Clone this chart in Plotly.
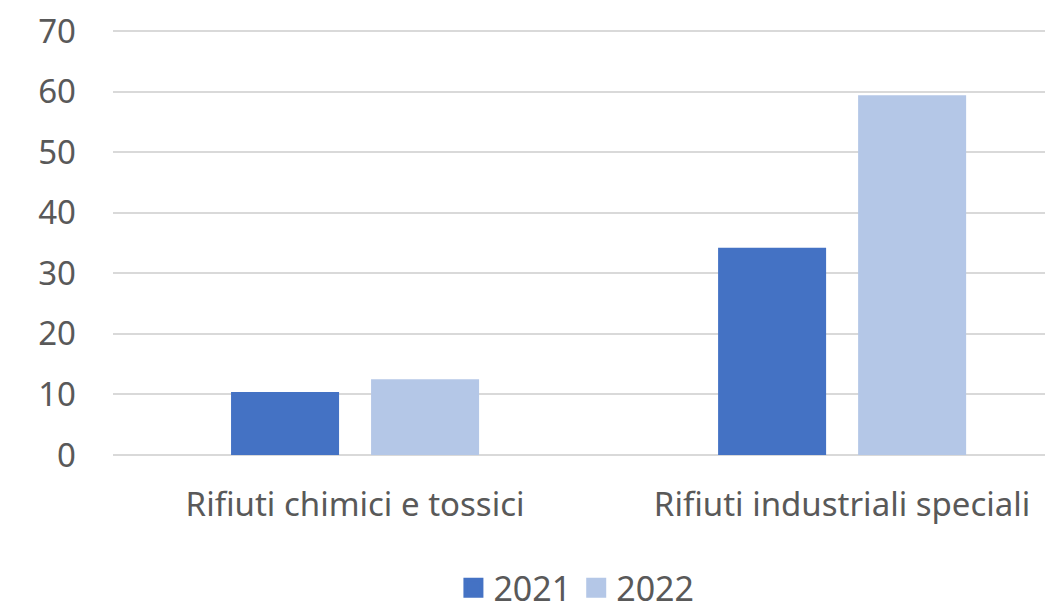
import plotly.graph_objects as go

categories = ["Rifiuti chimici e tossici", "Rifiuti industriali speciali"]
series_names = ["2021", "2022"]
values_2021 = [10.4, 34.2]
values_2022 = [12.5, 59.4]
y_ticks = [0, 10, 20, 30, 40, 50, 60, 70]

colors = ["#4472C4", "#B4C7E7"]
font_family = "Noto Sans, Open Sans, sans-serif"
text_color = "#595959"

fig = go.Figure()
for name, vals, col in zip(series_names, [values_2021, values_2022], colors):
    fig.add_trace(go.Bar(
        x=categories, y=vals, name=name, showlegend=False,
        marker=dict(color=col, line=dict(width=0)),
    ))
# legend entries (bigger square swatches)
for name, col in zip(series_names, colors):
    fig.add_trace(go.Scatter(
        x=[None], y=[None], mode="markers", name=name,
        marker=dict(symbol="square", size=16, color=col, line=dict(color=col, width=4)),
    ))

fig.update_layout(
    width=1045, height=599,
    margin=dict(l=105, r=0, t=20, b=152, autoexpand=False),
    paper_bgcolor="white", plot_bgcolor="white",
    barmode="group", bargap=0.425, bargroupgap=0.2286,
    font=dict(family=font_family, color=text_color, size=33),
    showlegend=True,
    legend=dict(orientation="h", x=0.493, xanchor="center", y=-0.312, yanchor="middle",
                font=dict(size=34, color=text_color), itemwidth=30,
                traceorder="normal", tracegroupgap=0),
    xaxis=dict(range=[-0.497, 1.433], showgrid=False, zeroline=False, showline=False,
               automargin=False, ticks="", tickfont=dict(size=33, color=text_color),
               ticklabelstandoff=27, ticklabeloverflow="allow"),
    yaxis=dict(range=[0, 70.5], tickvals=y_ticks, showgrid=True, gridcolor="#D9D9D9", gridwidth=1.5,
               zeroline=True, zerolinecolor="#D9D9D9", zerolinewidth=1.5, showline=False,
               automargin=False, ticks="", tickfont=dict(size=33, color=text_color),
               ticklabelstandoff=36, ticklabeloverflow="allow"),
)

fig.write_html("out.html")
